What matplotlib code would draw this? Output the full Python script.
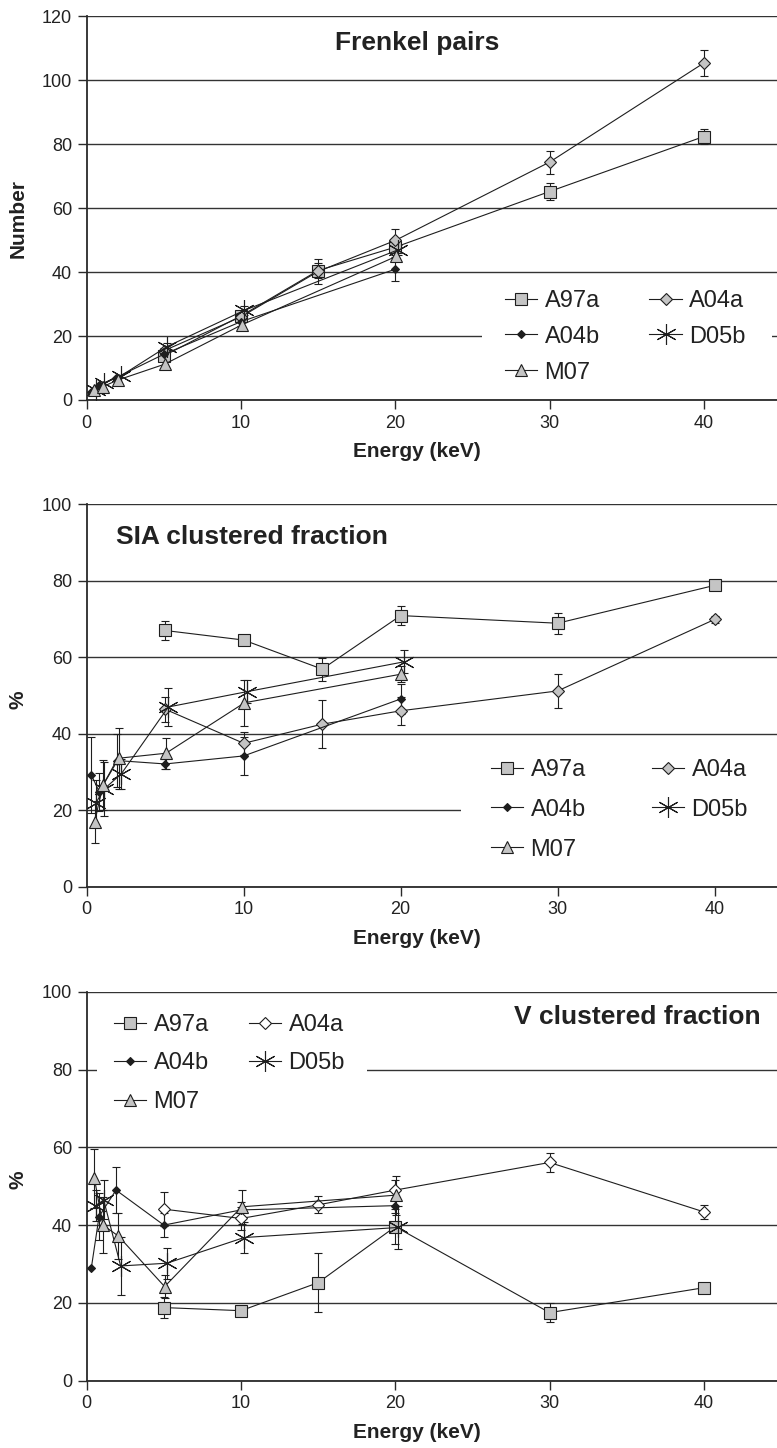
import numpy as np
import matplotlib
matplotlib.use("Agg")
import matplotlib.pyplot as plt
from matplotlib.patches import Rectangle

plt.rcParams['font.family'] = ['Liberation Sans', 'DejaVu Sans']

# recoil energies (keV) per potential
E_A97A = [5, 10, 15, 20, 30, 40]
E_A04A = [5, 10, 15, 20, 30, 40]
E_A04B = [0.3, 0.8, 1.9, 5, 10, 20]
E_D05B = [0.6, 1.1, 2.2, 5.2, 10.2, 20.2]
E_M07 = [0.5, 1.05, 2.05, 5.05, 10.05, 20.05]

# Frenkel pairs (number)
FP_A97A = [13.8, 26.3, 40.5, 47.8, 65.2, 82.4]
FP_A97A_ERR = [1.0, 1.5, 2.5, 2.5, 2.7, 2.3]
FP_A04A = [15.4, 26.0, 40.2, 49.9, 74.4, 105.4]
FP_A04A_ERR = [1.0, 1.5, 4.0, 3.5, 3.6, 4.1]
FP_A04B = [2.6, 4.7, 7.0, 14.3, 24.5, 40.9]
FP_A04B_ERR = [0, 0, 0, 1.0, 1.5, 3.8]
FP_D05B = [3.0, 5.2, 7.5, 16.7, 28.0, 47.0]
FP_D05B_ERR = [0, 0, 0, 1.0, 1.5, 1.5]
FP_M07 = [3.1, 4.2, 6.3, 11.2, 23.5, 44.9]
FP_M07_ERR = [0, 0, 0, 1.0, 1.0, 1.5]

# SIA clustered fraction (%)
SIA_A97A = [67.0, 64.5, 56.9, 70.9, 68.9, 78.8]
SIA_A97A_ERR = [2.5, 0, 3.0, 2.4, 2.8, 0]
SIA_A04A = [46.4, 37.5, 42.5, 46.0, 51.2, 69.9]
SIA_A04A_ERR = [3.3, 3.0, 6.3, 3.7, 4.5, 1.0]
SIA_A04B = [29.2, 24.8, 33.0, 32.1, 34.2, 49.1]
SIA_A04B_ERR = [10.0, 5.0, 7.0, 1.3, 5.0, 4.0]
SIA_D05B = [22.0, 25.5, 29.5, 47.0, 51.0, 58.8]
SIA_D05B_ERR = [6.0, 7.0, 4.0, 5.0, 3.0, 3.0]
SIA_M07 = [17.0, 26.6, 33.6, 34.9, 48.1, 55.6]
SIA_M07_ERR = [5.5, 6.5, 8.0, 4.0, 6.0, 2.0]

# V clustered fraction (%)
V_A97A = [18.8, 18.0, 25.2, 39.6, 17.5, 23.9]
V_A97A_ERR = [2.6, 1.3, 7.5, 4.5, 2.5, 0]
V_A04A = [44.1, 41.7, 45.2, 49.0, 56.1, 43.4]
V_A04A_ERR = [4.3, 3.0, 2.2, 2.6, 2.5, 1.8]
V_A04B = [29.0, 42.2, 49.0, 40.0, 43.9, 45.0]
V_A04B_ERR = [0, 6.0, 6.0, 3.0, 2.0, 2.0]
V_D05B = [45.0, 46.5, 29.5, 30.2, 36.8, 39.4]
V_D05B_ERR = [4.0, 5.0, 7.5, 4.0, 4.0, 5.5]
V_M07 = [52.0, 40.0, 37.2, 24.2, 44.7, 47.7]
V_M07_ERR = [7.6, 7.3, 6.0, 3.0, 4.3, 5.0]

LABELS = ["A97a", "A04a", "A04b", "D05b", "M07"]
ENERGIES = [E_A97A, E_A04A, E_A04B, E_D05B, E_M07]

GREY = "#c4c4c4"
INK = "#1e1e1e"
STYLES = {
    "A97a": dict(marker="s", ms=8.4, mfc=GREY),
    "A04a": dict(marker="D", ms=6.0, mfc=GREY),
    "A04b": dict(marker="D", ms=4.0, mfc=INK),
    "D05b": dict(marker=(6, 2, 0), ms=15, mfc=INK),
    "M07": dict(marker="^", ms=9.0, mfc=GREY),
}


def draw_panel(ax, values, errors, ylim, ylabel, ylabel_y, xmax,
               title, title_xy, title_ha, cover, leg_xy, leg_lspace,
               leg_cspace, open_a04a=False):
    handles = {}
    for lab, x, y, e in zip(LABELS, ENERGIES, values, errors):
        st = dict(STYLES[lab])
        if open_a04a and lab == "A04a":
            st["mfc"] = "white"
        err = np.array(e, dtype=float)
        err[err == 0] = np.nan
        eb = ax.errorbar(x, y, yerr=err, color=INK, lw=0.8, mec=INK,
                         mew=0.8, ecolor=INK, elinewidth=0.8, capsize=2.6,
                         capthick=0.8, zorder=3, **st)
        handles[lab] = eb[0]

    ax.set_xlim(0, xmax)
    ax.set_ylim(*ylim)
    ax.set_xticks([0, 10, 20, 30, 40])
    ax.set_yticks(np.arange(ylim[0], ylim[1] + 1, 20))
    ax.set_axisbelow(True)
    ax.grid(axis="y", color="#333333", lw=1.0)
    for s in ["top", "right"]:
        ax.spines[s].set_visible(False)
    for s in ["left", "bottom"]:
        ax.spines[s].set_color("#2a2a2a")
        ax.spines[s].set_linewidth(1.3)
    ax.tick_params(direction="out", length=6.5, width=1.0, color="#2a2a2a",
                   labelsize=13, labelcolor="#222222", pad=4)

    ax.set_xlabel("Energy (keV)", fontsize=15, fontweight="bold",
                  color="#222222")
    ax.xaxis.set_label_coords(0.479, -0.11)
    ax.set_ylabel(ylabel, fontsize=15, fontweight="bold", color="#222222",
                  va="center")
    ax.yaxis.set_label_coords(-0.0995, ylabel_y)

    ax.text(title_xy[0], title_xy[1], title, transform=ax.transAxes,
            ha=title_ha, va="baseline", fontsize=19, fontweight="bold",
            color="#222222")

    # white box behind the legend breaks the grid lines
    x0, y0, x1, y1 = cover
    ax.add_patch(Rectangle((x0, y0), x1 - x0, y1 - y0, transform=ax.transAxes,
                           facecolor="white", edgecolor="none", zorder=1,
                           clip_on=False))

    order = ["A97a", "A04b", "M07", "A04a", "D05b"]
    ax.legend([handles[k] for k in order], order, ncol=2, frameon=False,
              loc="upper left", bbox_to_anchor=leg_xy, borderpad=0,
              fontsize=17, handlelength=1.38, handletextpad=0.3,
              labelspacing=leg_lspace, columnspacing=leg_cspace,
              numpoints=1, labelcolor="#222222")


fig = plt.figure(figsize=(7.77, 14.48), dpi=100)
W, H = 777.0, 1448.0
left = 86.7 / W
width = 1.0 - left


def px_axes(top_px, bottom_px):
    return fig.add_axes([left, 1 - bottom_px / H, width,
                         (bottom_px - top_px) / H])


def frac(ax_top, ax_bot, xpx, ypx):
    return ((xpx - 86.7) / (W - 86.7), (ax_bot - ypx) / (ax_bot - ax_top))


# Frenkel pairs
t, b = 16.3, 400.0
ax1 = px_axes(t, b)
c0 = frac(t, b, 482, 392)
c1 = frac(t, b, 772, 280)
draw_panel(ax1, [FP_A97A, FP_A04A, FP_A04B, FP_D05B, FP_M07],
           [FP_A97A_ERR, FP_A04A_ERR, FP_A04B_ERR, FP_D05B_ERR, FP_M07_ERR],
           (0, 120), "Number", 0.474, 44.74,
           "Frenkel pairs", frac(t, b, 335, 50), "left",
           (c0[0], c0[1], c1[0], c1[1]), frac(t, b, 493, 278), 0.59, 2.1)

# SIA clustered fraction
t, b = 504.3, 886.7
ax2 = px_axes(t, b)
c0 = frac(t, b, 461, 875)
c1 = frac(t, b, 800, 745)
draw_panel(ax2, [SIA_A97A, SIA_A04A, SIA_A04B, SIA_D05B, SIA_M07],
           [SIA_A97A_ERR, SIA_A04A_ERR, SIA_A04B_ERR, SIA_D05B_ERR,
            SIA_M07_ERR],
           (0, 100), "%", 0.488, 43.97,
           "SIA clustered fraction", frac(t, b, 116, 544), "left",
           (c0[0], c0[1], c1[0], c1[1]), frac(t, b, 479, 747), 0.76, 2.8)

# V clustered fraction
t, b = 991.7, 1380.7
ax3 = px_axes(t, b)
c0 = frac(t, b, 97, 1125)
c1 = frac(t, b, 367, 1000)
draw_panel(ax3, [V_A97A, V_A04A, V_A04B, V_D05B, V_M07],
           [V_A97A_ERR, V_A04A_ERR, V_A04B_ERR, V_D05B_ERR, V_M07_ERR],
           (0, 100), "%", 0.517, 44.74,
           "V clustered fraction", frac(t, b, 760.7, 1024), "right",
           (c0[0], c0[1], c1[0], c1[1]), frac(t, b, 102, 1002), 0.70, 1.7,
           open_a04a=True)

fig.savefig("out.png", dpi=100)
